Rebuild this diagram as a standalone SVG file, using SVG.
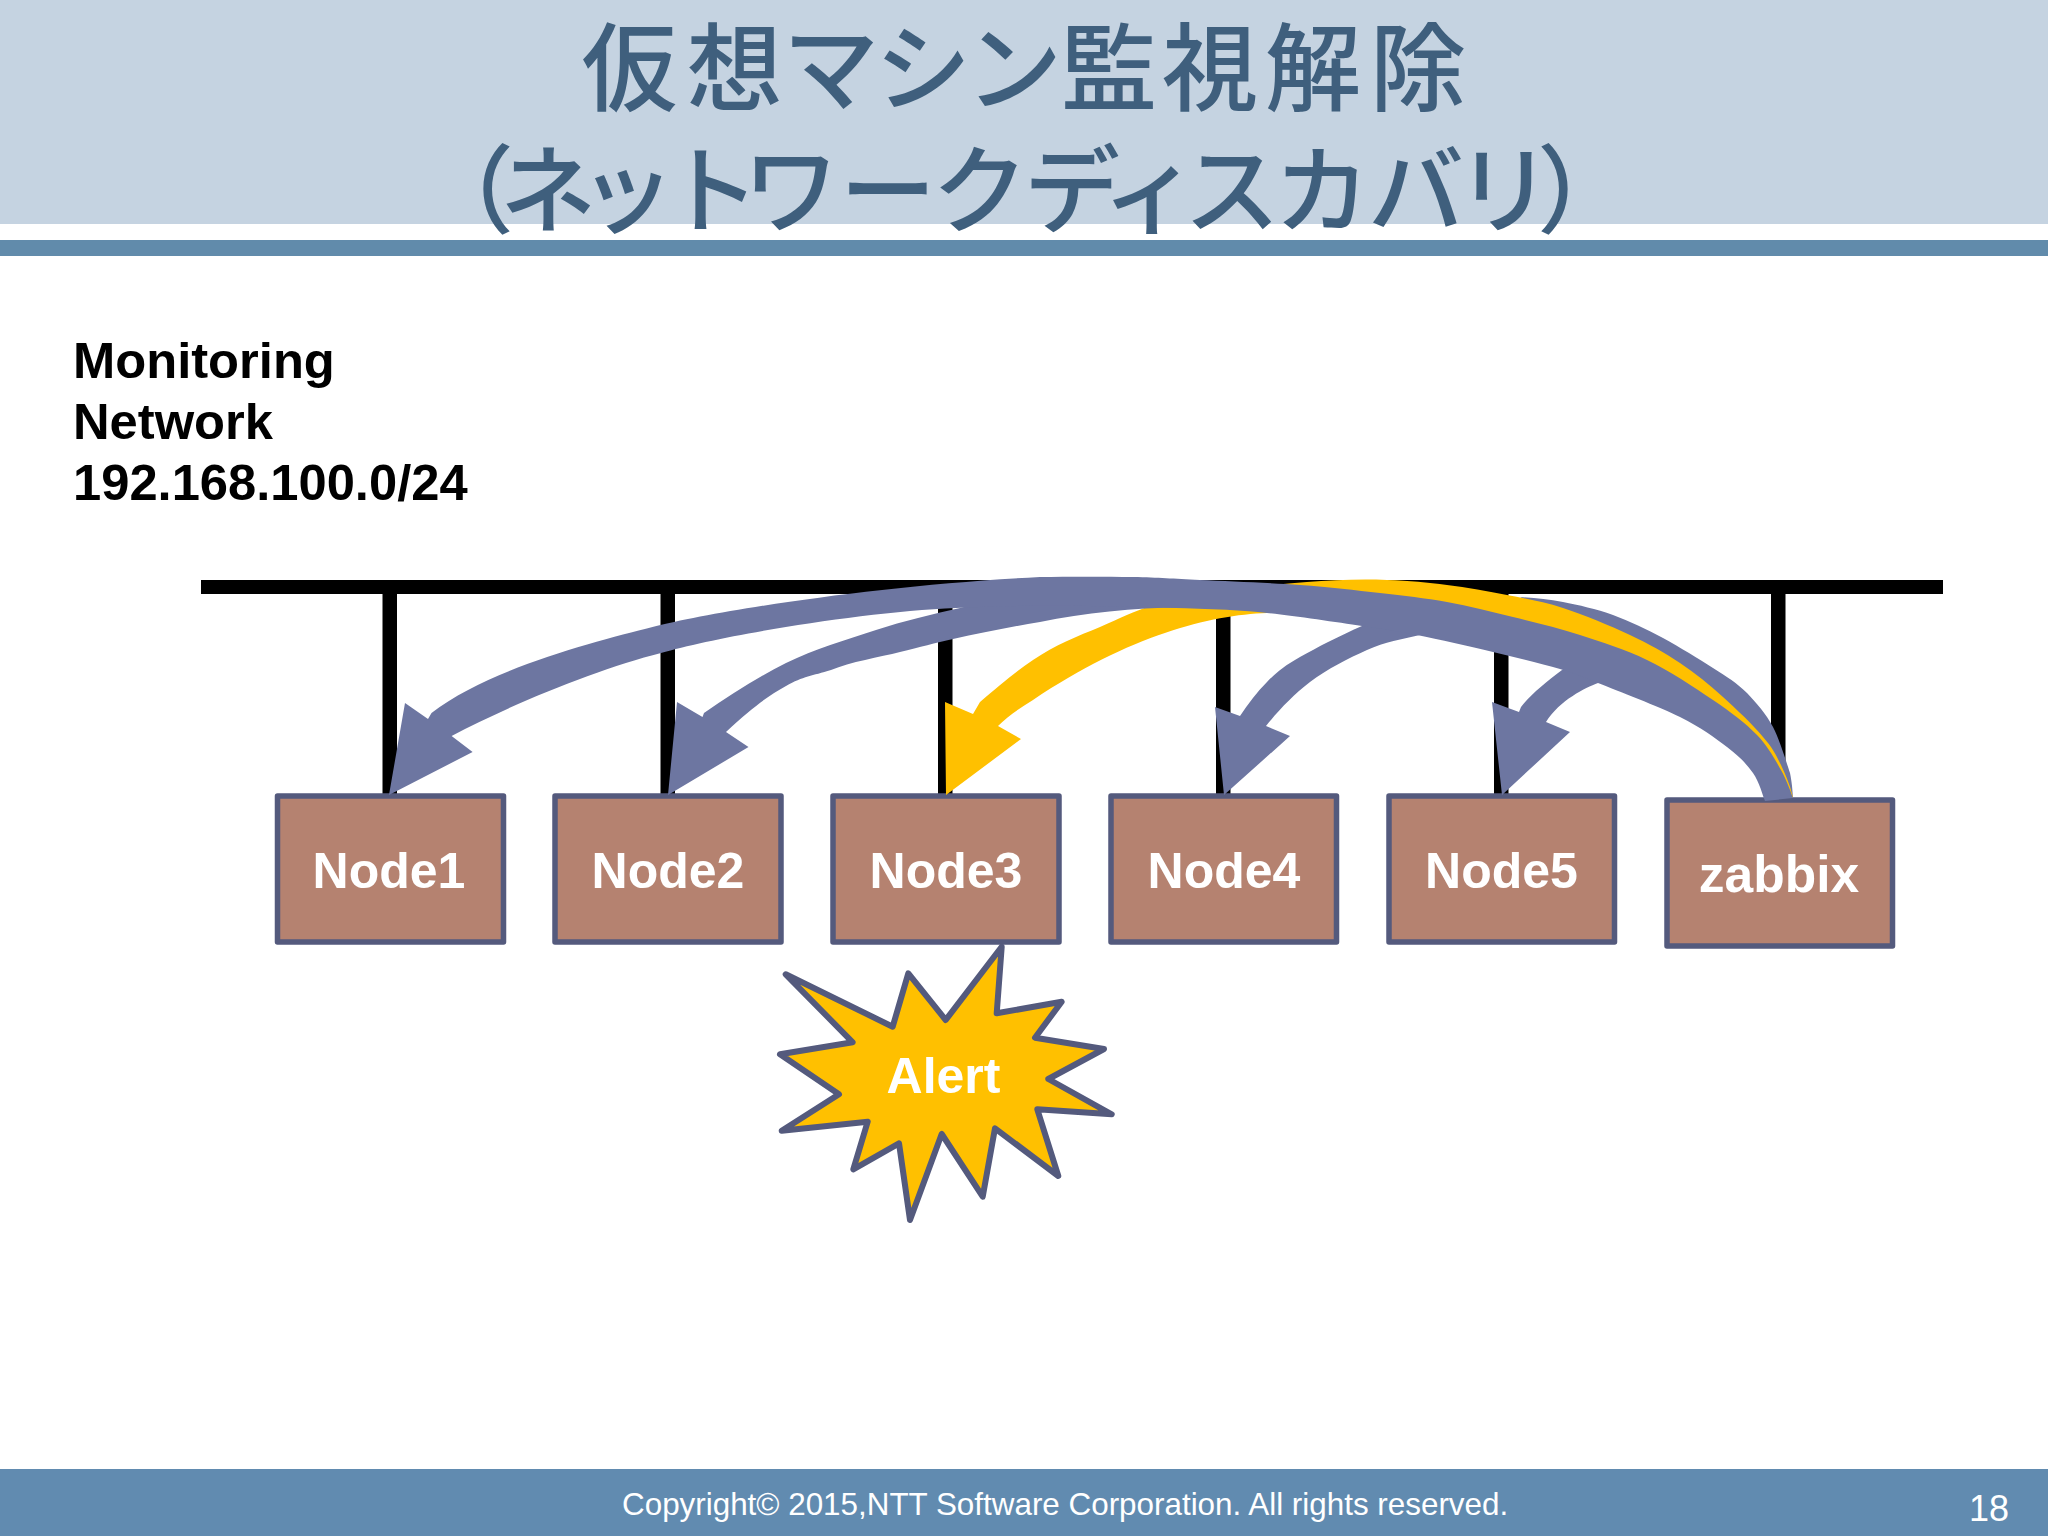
<svg xmlns="http://www.w3.org/2000/svg" width="2048" height="1536" viewBox="0 0 2048 1536">
<style>
.t{font-family:"Noto Sans CJK JP","Noto Sans CJK SC",sans-serif;font-size:96px;font-weight:500;fill:#3f5f7d}
.s{font-family:"Liberation Sans",Arial,sans-serif}
.n{font-size:50px;font-weight:bold;fill:#fff;text-anchor:middle}
.b{fill:#6d76a1}
.y{fill:#ffc000}
.box{fill:#b58270;stroke:#545a7d;stroke-width:5.500;stroke-linejoin:round}
</style>
<rect width="2048" height="1536" fill="#fff"/>
<g id="header">
<rect width="2048" height="224" fill="#c5d3e1"/>
<rect y="240" width="2048" height="16" fill="#618bab"/>
<text class="t" x="581.5 686.5 783 875 966 1061 1162 1265 1370" y="103">仮想マシン監視解除</text>
<text class="t" x="418 500 579 664 743 840 932 1024 1102 1184 1274 1368 1456 1537" y="225">（ネットワークディスカバリ）</text>
</g>
<g id="network-label" class="s" font-size="50.700" font-weight="bold" fill="#000">
<text x="73" y="378">Monitoring</text>
<text x="73" y="439">Network</text>
<text x="73" y="500">192.168.100.0/24</text>
</g>
<g id="network" fill="#000">
<rect x="201" y="580" width="1742" height="14"/>
<rect x="382.500" y="590" width="14.500" height="207"/>
<rect x="660.500" y="590" width="14.500" height="207"/>
<rect x="938" y="590" width="14.500" height="207"/>
<rect x="1216" y="590" width="14.500" height="207"/>
<rect x="1494" y="590" width="14.500" height="207"/>
<rect x="1771" y="590" width="14.500" height="207"/>
</g>
<g id="node1"><rect class="box" x="277.500" y="796" width="226" height="146"/><text class="s n" x="389" y="888">Node1</text></g>
<g id="node2"><rect class="box" x="555" y="796" width="226" height="146"/><text class="s n" x="668" y="888">Node2</text></g>
<g id="node3"><rect class="box" x="833" y="796" width="226" height="146"/><text class="s n" x="946" y="888">Node3</text></g>
<g id="node4"><rect class="box" x="1111" y="796" width="225.500" height="146"/><text class="s n" x="1224" y="888">Node4</text></g>
<g id="node5"><rect class="box" x="1389" y="796" width="225.500" height="146"/><text class="s n" x="1501.500" y="888">Node5</text></g>
<g id="zabbix"><rect class="box" x="1667" y="800" width="225.500" height="146"/><text class="s n" x="1779" y="892" style="font-size:51.500px">zabbix</text></g>
<g id="alert">
<polygon points="785.700,974.300 892.700,1026.700 908.300,973.300 945.700,1020 1001.700,946.700 996.700,1013.300 1061.700,1001.700 1035,1037.700 1104,1049 1048.300,1079 1111.700,1114.300 1037.300,1109.300 1058.300,1176 995,1128.300 982.700,1196.700 941.700,1134 910,1220 899,1143.300 853.300,1169.300 867.700,1121.700 781.700,1130.700 839,1094.300 780,1054.300 852.700,1042.300" fill="#ffc000" stroke="#545a7d" stroke-width="6" stroke-linejoin="round"/>
<text class="s n" x="943.500" y="1093">Alert</text>
</g>
<g id="connectors">
<path class="b" d="M1520 597C1535 598 1548 599 1563 602C1578.500 605 1596.300 609 1613 615C1629.700 621 1646.300 629.200 1663 638C1679.700 647 1699 659.200 1713 668C1727 676.800 1737 683.200 1747 693C1757 703.800 1766 713.700 1773 727C1780 740.800 1786 761.200 1790 773C1792 783 1792.500 790 1793 798L1770 770L1600 640Z"/>
<path class="y" d="M946 795L945 702L973 714L980 702C1000 685 1015 672 1033 660C1055 645 1078 636 1100 627C1120 618 1135 611 1150 606C1190 595 1250 586 1307 582C1333 580 1360 579 1387 580C1410 580.500 1427 582.500 1447 585C1467 587.500 1488 591.200 1507 595C1526 598.800 1542.500 601.300 1563 608C1583.500 614.700 1610.500 625.800 1630 635C1649.500 644.200 1664.500 652.700 1680 663C1695.500 673.300 1709.500 684.700 1723 697C1736.500 709.300 1753.300 725 1763 737C1772.700 748 1776 755 1781 765C1787 778 1791 788 1793 798L1780 785L1700 710L1500 640L1267 600L1267 613C1210 615 1130 635 1033 700C1020 708 1008 716 998 726L1021 739Z"/>
<path class="b" d="M1224 795L1215 707L1240 716C1248 704 1257 692 1267 682C1277 672 1284 666 1300 657C1316 648 1341 635 1362 626L1400 610L1420 630L1420 635C1402 639 1385 642 1367 650C1349 658 1327 669 1310 682C1293 695 1279 710 1266 726L1290 736Z"/>
<path class="b" d="M1502 795L1492 702L1519 712L1521 707C1530 695 1545 683 1562 670L1600 660L1600 680L1598 683C1585 688 1560 700 1546 722L1570 732Z"/>
<path class="b" d="M668 795L677 702L702.500 717L704 713C730 695 758 677 786 663C815 649 845 640 876 630C904 621 932 614 960 608C1000 597 1050 590 1100 585L1200 600L1201 608C1150 606 1090 612 1040 622C1010 627 980 633 953 639C935 643 920 647 900 652C880 657 850 662 831 670C812 676 803.500 676 786 686C768.500 696 755 705 726 732L748.500 747Z"/>
<path class="b" d="M389 795L405 703L428 719L431.500 713C490 668 600 640 652.500 627C720 610 880 585 1040 577C1068 576.500 1106.300 576.500 1133 577C1159.700 577.500 1172.200 578.700 1200 580C1227.800 581.300 1270 582.800 1300 585C1330 587.200 1355.500 590.200 1380 593C1404.500 595.800 1424.800 598 1447 602C1469.200 606 1490.800 611.500 1513 617C1535.200 622.500 1557.700 627.800 1580 635C1602.300 642.200 1624.800 649.200 1647 660C1669.200 670.800 1694.700 687.500 1713 700C1731.300 712.500 1745.700 723.300 1757 735C1768.300 746.700 1775 759.500 1781 770C1787 780.500 1791 793.300 1793 798L1765 801C1763 796.300 1759.300 782 1753 773C1746.700 764 1739.200 756.300 1727 747C1714.800 737.700 1701.500 727.700 1680 717C1658.500 706.300 1618 691 1598 683C1578 675 1577.500 674.200 1560 669C1542.500 663.800 1516.800 657.700 1493 652C1469.200 646.300 1438.800 639.300 1417 635C1395.200 630.700 1387 629.700 1362 626C1337 622.300 1293.200 615.800 1267 613C1240.800 610.200 1224.500 609.500 1205 609C1120 606 1030 604 956 608C860 612 720 636 661 653C600 668 510 705 451.600 736L472.600 752Z"/>
</g>
<g id="footer">
<rect y="1469" width="2048" height="67" fill="#618bb0"/>
<text class="s" x="622" y="1515" font-size="31.400" fill="#fff">Copyright© 2015,NTT Software Corporation. All rights reserved.</text>
<text class="s" x="1969" y="1521" font-size="36" fill="#fff">18</text>
</g>
</svg>
